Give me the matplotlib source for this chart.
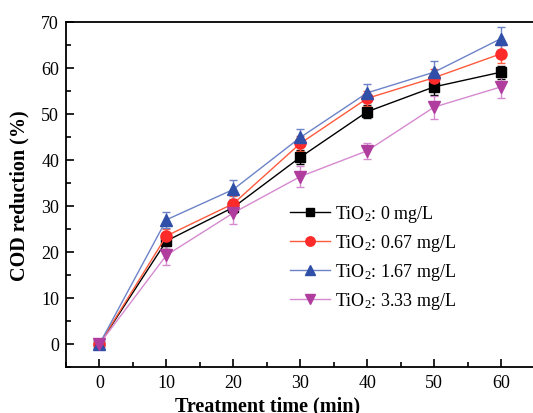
import matplotlib
matplotlib.use("Agg")
import matplotlib.pyplot as plt
from matplotlib.ticker import MultipleLocator

plt.rcParams['font.family'] = ['Liberation Serif', 'DejaVu Serif']
plt.rcParams['mathtext.fontset'] = 'custom'
plt.rcParams['mathtext.rm'] = 'Liberation Serif'

time = [0, 10, 20, 30, 40, 50, 60]
labels = ['TiO$\\mathregular{_2}$: 0 mg/L', 'TiO$\\mathregular{_2}$: 0.67 mg/L',
          'TiO$\\mathregular{_2}$: 1.67 mg/L', 'TiO$\\mathregular{_2}$: 3.33 mg/L']
cod_0 = [0, 22.4, 29.7, 40.6, 50.5, 55.9, 59.1]
cod_067 = [0, 23.5, 30.5, 43.6, 53.4, 57.9, 63.1]
cod_167 = [0, 27.0, 33.6, 44.9, 54.6, 59.1, 66.4]
cod_333 = [0, 19.3, 28.5, 36.4, 42.0, 51.5, 55.9]
err_0 = [0, 1.8, 1.3, 1.5, 1.4, 1.8, 1.4]
err_067 = [0, 1.6, 1.7, 1.6, 1.7, 1.8, 2.0]
err_167 = [0, 1.7, 2.0, 1.8, 2.0, 2.4, 2.5]
err_333 = [0, 2.1, 2.4, 2.2, 1.8, 2.5, 2.5]

fig = plt.figure(figsize=(5.33, 4.14), dpi=100)
ax = fig.add_axes([66/533, 1-368/414, (568-66)/533, (368-23)/414])

styles = [
    (cod_0, err_0, 's', 'black', 'black', 7),
    (cod_067, err_067, 'o', '#ff2a2a', '#ff5a3c', 8),
    (cod_167, err_167, '^', '#2f4fa8', '#6d83c8', 8.5),
    (cod_333, err_333, 'v', '#b03d9e', '#d58ad0', 8.5),
]
handles = []
for (y, e, m, mc, lc, ms), lab in zip(styles, labels):
    c = ax.errorbar(time, y, yerr=e, marker=m, markersize=ms, color=lc, mfc=mc, mec=mc,
                    ecolor=lc, elinewidth=1, capsize=3, capthick=1, linewidth=1, label=lab)
    handles.append(c[0])

ax.set_xlim(-5, 70)
ax.set_ylim(-5, 70)
ax.set_xticks([0, 10, 20, 30, 40, 50, 60])
ax.xaxis.set_minor_locator(MultipleLocator(5))
ax.yaxis.set_major_locator(MultipleLocator(10))
ax.yaxis.set_minor_locator(MultipleLocator(5))
ax.tick_params(which='major', direction='in', length=6, width=1.2, labelsize=13, pad=5)
ax.tick_params(which='minor', direction='in', length=3.5, width=1.2)
for s in ax.spines.values():
    s.set_linewidth(1.3)

ax.set_xlabel('Treatment time (min)', fontsize=14.5, fontweight='bold')
ax.xaxis.set_label_coords((267.5-66)/502, -0.082)
ax.set_ylabel('COD reduction (%)', fontsize=14.5, fontweight='bold', labelpad=8)

ax.legend(handles=handles, labels=labels, loc='upper left',
          bbox_to_anchor=(290/533, 1-204/414), bbox_transform=fig.transFigure,
          frameon=False, fontsize=13, handlelength=2.2, handletextpad=0.3,
          labelspacing=0.45, borderpad=0, borderaxespad=0, markerscale=0.85)

fig.savefig('out.png', dpi=100)
